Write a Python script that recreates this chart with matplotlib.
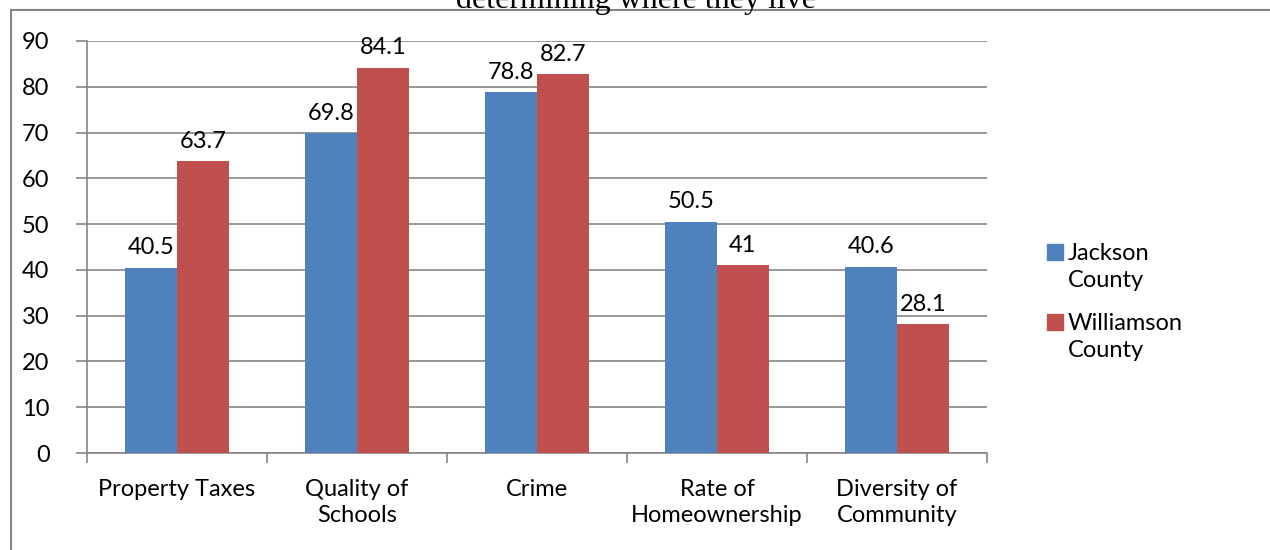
import matplotlib.pyplot as plt
import numpy as np
from matplotlib.lines import Line2D
from matplotlib.patches import Rectangle

plt.rcParams['font.family'] = ['Lato', 'DejaVu Sans']

categories = ['Property Taxes', 'Quality of\nSchools', 'Crime', 'Rate of\nHomeownership', 'Diversity of\nCommunity']
jackson = [40.5, 69.8, 78.8, 50.5, 40.6]
williamson = [63.7, 84.1, 82.7, 41, 28.1]
jackson_labels = ['40.5', '69.8', '78.8', '50.5', '40.6']
williamson_labels = ['63.7', '84.1', '82.7', '41', '28.1']
series_names = ['Jackson\nCounty', 'Williamson\nCounty']

blue = '#4f81bd'
red = '#c0504d'
grey = '#868686'
fs = 17

W, H = 1270, 550
fig = plt.figure(figsize=(W / 100, H / 100), dpi=100)
ax = fig.add_axes([87 / W, (H - 453) / H, 900 / W, 412 / H])

x = np.arange(len(categories))
bw = 0.288
b1 = ax.bar(x - bw / 2, jackson, bw, color=blue, zorder=3)
b2 = ax.bar(x + bw / 2, williamson, bw, color=red, zorder=3)

for bars, labs in ((b1, jackson_labels), (b2, williamson_labels)):
    for rect, lab in zip(bars, labs):
        ax.annotate(lab, (rect.get_x() + rect.get_width() / 2, rect.get_height()),
                    xytext=(0, 7), textcoords='offset points', ha='center', va='bottom',
                    fontsize=fs)

ax.set_xlim(-0.5, len(categories) - 0.5)
ax.set_ylim(0, 90)
ax.set_yticks(range(0, 91, 10))
ax.yaxis.grid(True, color=grey, linewidth=1.2, zorder=0)
ax.tick_params(axis='y', length=8, color=grey, width=1.2, labelsize=fs, pad=19)

ax.set_xticks(x)
ax.set_xticklabels(categories, fontsize=fs, linespacing=1.3)
ax.tick_params(axis='x', length=0, pad=19)
ax.set_xticks(np.arange(-0.5, len(categories)), minor=True)
ax.tick_params(axis='x', which='minor', length=7, color=grey, width=1.2)

for s in ['top', 'right']:
    ax.spines[s].set_visible(False)
for s in ['left', 'bottom']:
    ax.spines[s].set_color(grey)
    ax.spines[s].set_linewidth(1.2)

# legend drawn by hand so the swatch lines up with the first text line
for name, col, y0 in zip(series_names, [blue, red], [252, 322]):
    fig.add_artist(Rectangle((1047 / W, 1 - (y0 + 8) / H), 16 / W, 16 / H,
                             transform=fig.transFigure, color=col))
    fig.text(1068 / W, 1 - (y0 + 15) / H, name, ha='left', va='center',
             fontsize=fs, linespacing=1.35)

# outer chart border (left and top visible)
fig.add_artist(Line2D([11 / W, 11 / W], [0, (H - 10) / H], color=grey, linewidth=1.5))
fig.add_artist(Line2D([11 / W, 1], [(H - 10) / H, (H - 10) / H], color=grey, linewidth=1.5))

fig.text(636 / W, (H - 8) / H, 'determining where they live', ha='center', va='baseline',
         fontsize=23, family=['Liberation Serif', 'DejaVu Serif'])

fig.savefig('out.png', dpi=100)
